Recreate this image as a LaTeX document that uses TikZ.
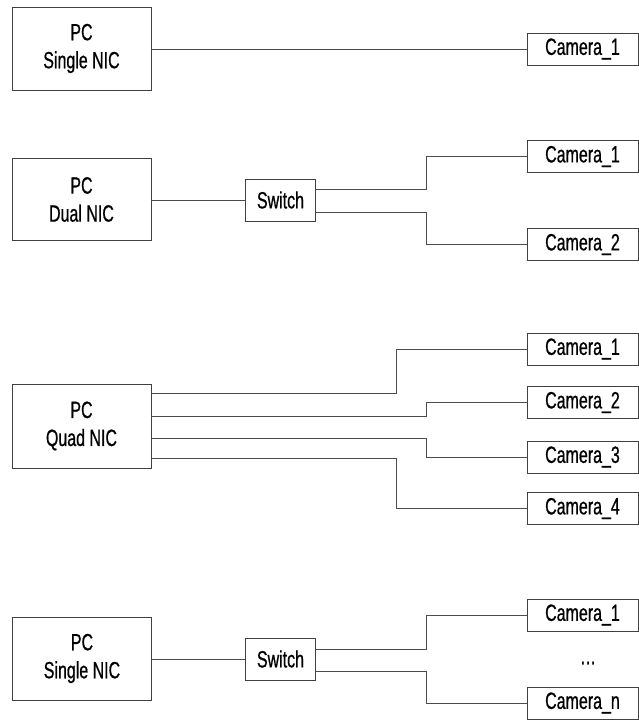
\documentclass[tikz,border=0pt]{standalone}
\usepackage{fontspec}
\setmainfont{Liberation Sans}[FakeStretch=0.68,FakeBold=0.7]
\usetikzlibrary{calc}
\tikzset{
  lbl/.style={font=\fontsize{23.5}{28}\selectfont},
  pcbox/.style={lbl, draw=black!75, line width=0.8pt, minimum width=139pt, minimum height=83pt, inner sep=0pt, align=center},
  swbox/.style={lbl, draw=black!75, line width=0.8pt, minimum width=70pt, minimum height=42pt, inner sep=0pt},
  cambox/.style={lbl, draw=black!75, line width=0.8pt, minimum width=111pt, minimum height=32pt, inner sep=0pt},
  wire/.style={draw=black!70, line width=0.8pt},
}
\begin{document}
\begin{tikzpicture}[x=1pt,y=-1pt]
\useasboundingbox (0,0) rectangle (639,720);
% junction columns
\coordinate (jin) at (426,0);
\coordinate (jout) at (396,0);
% ---------- Section 1
\node[pcbox] (pc1) at (81.5,48.5) {PC\\Single NIC};
\node[cambox] (c11) at (582.5,49) {Camera\_1};
\draw[wire] (pc1.east |- c11.west) -- (c11.west);
% ---------- Section 2
\node[pcbox, minimum height=82pt] (pc2) at (81.5,199.5) {PC\\Dual NIC};
\node[swbox] (sw2) at (280.5,200) {Switch};
\node[cambox] (c21) at (582.5,156.5) {Camera\_1};
\node[cambox] (c22) at (582.5,244.5) {Camera\_2};
\draw[wire] (pc2.east |- sw2.west) -- (sw2.west);
\coordinate (s2a) at ($(sw2.east)+(0,-11)$);
\coordinate (s2b) at ($(sw2.east)+(0,12)$);
\draw[wire] (s2a) -- (s2a -| jin) |- (c21.west);
\draw[wire] (s2b) -- (s2b -| jin) |- (c22.west);
% ---------- Section 3
\node[pcbox, minimum height=84pt] (pc3) at (81.5,426) {PC\\Quad NIC};
\node[cambox] (c31) at (582.5,349) {Camera\_1};
\node[cambox] (c32) at (582.5,402.5) {Camera\_2};
\node[cambox] (c33) at (582.5,457) {Camera\_3};
\node[cambox] (c34) at (582.5,508.5) {Camera\_4};
\coordinate (p31) at ($(pc3.east)+(0,-33)$);
\coordinate (p32) at ($(pc3.east)+(0,-10)$);
\coordinate (p33) at ($(pc3.east)+(0,12)$);
\coordinate (p34) at ($(pc3.east)+(0,32)$);
\draw[wire] (p31) -- (p31 -| jout) |- (c31.west);
\draw[wire] (p32) -- (p32 -| jin) |- (c32.west);
\draw[wire] (p33) -- (p33 -| jin) |- (c33.west);
\draw[wire] (p34) -- (p34 -| jout) |- (c34.west);
% ---------- Section 4
\node[pcbox] (pc4) at (82,658.5) {PC\\Single NIC};
\node[swbox] (sw4) at (280.5,659) {Switch};
\node[cambox] (c41) at (582.5,615) {Camera\_1};
\node[lbl, inner sep=0pt] (dots) at (588,663) {\dots};
\node[cambox] (c4n) at (582.5,703) {Camera\_n};
\draw[wire] (pc4.east |- sw4.west) -- (sw4.west);
\coordinate (s4a) at ($(sw4.east)+(0,-10)$);
\coordinate (s4b) at ($(sw4.east)+(0,12)$);
\draw[wire] (s4a) -- (s4a -| jin) |- (c41.west);
\draw[wire] (s4b) -- (s4b -| jin) |- (c4n.west);
\end{tikzpicture}
\end{document}
